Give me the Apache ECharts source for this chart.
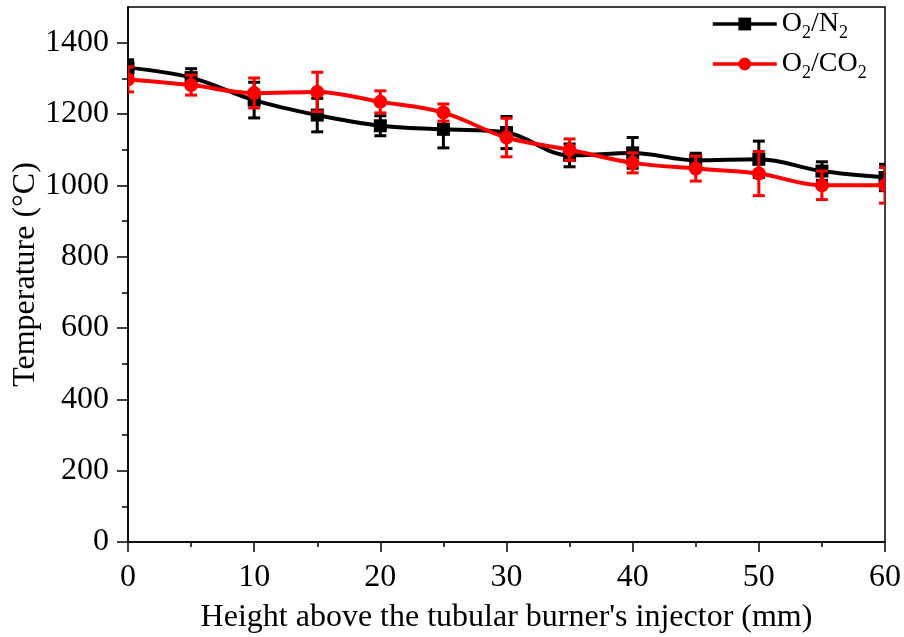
<!DOCTYPE html>
<html>
<head>
<meta charset="utf-8">
<script src="https://cdn.jsdelivr.net/npm/echarts@6/dist/echarts.min.js"></script>
<style>html,body{margin:0;padding:0;background:#fff}#c{width:904px;height:637px}</style>
</head>
<body>
<div id="c"></div>
<script>
var heights = [0, 5, 10, 15, 20, 25, 30, 35, 40, 45, 50, 55, 60];
var tempN2 = [1330, 1302, 1239, 1197, 1167, 1157, 1148, 1084, 1091, 1070, 1073, 1040, 1022];
var errN2 = [22, 25, 50, 47, 28, 52, 45, 32, 43, 20, 51, 26, 37];
var tempCO2 = [1297, 1281, 1259, 1262, 1234, 1204, 1134, 1100, 1063, 1047, 1033, 1000, 1000];
var errCO2 = [35, 28, 42, 55, 31, 24, 54, 30, 28, 35, 62, 40, 50];
var yMajorTicks = [0, 200, 400, 600, 800, 1000, 1200, 1400];
var yMinorTicks = [100, 300, 500, 700, 900, 1100, 1300];
var seriesNames = ['O2/N2', 'O2/CO2'];

var FONT = 'Liberation Serif';
function pairs(xs, ys) { return xs.map(function (x, i) { return [x, ys[i]]; }); }
function errData(xs, ys, es) { return xs.map(function (x, i) { return [x, ys[i] - es[i], ys[i] + es[i], ys[i]]; }); }

function errSeries(name, color, shape, data) {
  return {
    type: 'custom', name: name, clip: true, z: 5,
    encode: { x: 0, y: [1, 2] },
    data: data,
    renderItem: function (params, api) {
      var x = api.value(0);
      var top = api.coord([x, api.value(2)]);
      var bot = api.coord([x, api.value(1)]);
      var mid = api.coord([x, api.value(3)]);
      var hw = 6;
      var marker = shape === 'rect'
        ? { type: 'rect', shape: { x: mid[0] - 6.5, y: mid[1] - 6.5, width: 13, height: 13 }, style: { fill: color } }
        : { type: 'circle', shape: { cx: mid[0], cy: mid[1], r: 7 }, style: { fill: color } };
      return {
        type: 'group', children: [
          marker,
          { type: 'line', shape: { x1: top[0], y1: top[1], x2: bot[0], y2: bot[1] }, style: { stroke: color, lineWidth: 3 } },
          { type: 'line', shape: { x1: top[0] - hw, y1: top[1], x2: top[0] + hw, y2: top[1] }, style: { stroke: color, lineWidth: 3 } },
          { type: 'line', shape: { x1: bot[0] - hw, y1: bot[1], x2: bot[0] + hw, y2: bot[1] }, style: { stroke: color, lineWidth: 3 } }
        ]
      };
    }
  };
}

var chart = echarts.init(document.getElementById('c'), null, { renderer: 'canvas' });
chart.setOption({
  animation: false,
  backgroundColor: '#fff',
  grid: { left: 128, right: 19, top: 7, bottom: 95, containLabel: false, outerBoundsMode: 'none', show: true, borderColor: '#000', borderWidth: 1.5, backgroundColor: 'transparent' },
  legend: {
    orient: 'vertical', left: 706, top: 5, itemGap: 8, itemWidth: 64, itemHeight: 16,
    lineStyle: { width: 3.5 },
    data: [seriesNames[0], seriesNames[1]],
    formatter: function (n) {
      return n === 'O2/N2' ? '{n|O}{s|2}{n|/N}{s|2}' : '{n|O}{s|2}{n|/CO}{s|2}';
    },
    textStyle: {
      rich: {
        n: { fontFamily: FONT, fontSize: 28, color: '#000', lineHeight: 36, verticalAlign: 'middle' },
        s: { fontFamily: FONT, fontSize: 18, color: '#000', lineHeight: 36, verticalAlign: 'bottom' }
      }
    }
  },
  xAxis: {
    type: 'value', min: 0, max: 60, interval: 10,
    name: "Height above the tubular burner's injector (mm)", nameLocation: 'middle', nameGap: 60, nameMoveOverlap: false,
    nameTextStyle: { fontFamily: FONT, fontSize: 32, color: '#000' },
    axisLine: { show: true, lineStyle: { color: '#000', width: 1.5 } },
    axisTick: { show: true, inside: false, length: 10, lineStyle: { color: '#000', width: 1.5 } },
    minorTick: { show: true, splitNumber: 2, length: 5, lineStyle: { color: '#000', width: 1.5 } },
    axisLabel: { fontFamily: FONT, fontSize: 32, color: '#000', margin: 20, formatter: function (v) { return String(v); } },
    splitLine: { show: false }
  },
  yAxis: [{
    type: 'value', min: 0, max: 1500, interval: 100,
    name: 'Temperature (°C)', nameLocation: 'middle', nameGap: 86, nameMoveOverlap: false,
    nameTextStyle: { fontFamily: FONT, fontSize: 32, color: '#000' },
    axisLine: { show: true, lineStyle: { color: '#000', width: 1.5 } },
    axisTick: { show: true, length: 11, customValues: yMajorTicks, lineStyle: { color: '#000', width: 1.5 } },
    axisLabel: { fontFamily: FONT, fontSize: 32, color: '#000', margin: 19, customValues: yMajorTicks, formatter: function (v) { return String(v); } },
    splitLine: { show: false }
  }, {
    type: 'value', min: 0, max: 1500, interval: 100, position: 'left',
    axisLine: { show: false },
    axisTick: { show: true, length: 6, customValues: yMinorTicks, lineStyle: { color: '#000', width: 1.5 } },
    axisLabel: { show: false },
    splitLine: { show: false }
  }],
  series: [
    {
      type: 'line', name: seriesNames[0], data: pairs(heights, tempN2), smooth: 0.35,
      showSymbol: false, symbol: 'rect', symbolSize: 13, clip: true, z: 3,
      lineStyle: { color: '#000', width: 4 }, itemStyle: { color: '#000' }
    },
    {
      type: 'line', name: seriesNames[1], data: pairs(heights, tempCO2), smooth: 0.35,
      showSymbol: false, symbol: 'circle', symbolSize: 13, clip: true, z: 3,
      lineStyle: { color: '#ff0000', width: 4 }, itemStyle: { color: '#ff0000' }
    },
    errSeries(seriesNames[0], '#000', 'rect', errData(heights, tempN2, errN2)),
    errSeries(seriesNames[1], '#ff0000', 'circle', errData(heights, tempCO2, errCO2))
  ]
});
</script>
</body>
</html>
